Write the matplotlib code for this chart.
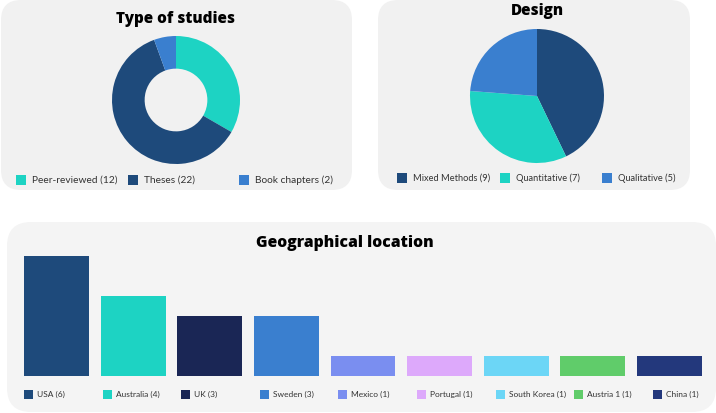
import matplotlib.pyplot as plt
import matplotlib.transforms as mtransforms
from matplotlib.patches import FancyBboxPatch, Rectangle

# data
study_labels = ['Peer-reviewed (12)', 'Theses (22)', 'Book chapters (2)']
study_values = [12, 22, 2]
study_colors = ['#1dd3c3', '#1e4a7b', '#3a7fcf']

design_labels = ['Mixed Methods (9)', 'Quantitative (7)', 'Qualitative (5)']
design_values = [9, 7, 5]
design_colors = ['#1e4a7b', '#1dd3c3', '#3a7fcf']

countries = ['USA (6)', 'Australia (4)', 'UK (3)', 'Sweden (3)', 'Mexico (1)',
             'Portugal (1)', 'South Korea (1)', 'Austria 1 (1)', 'China (1)']
country_values = [6, 4, 3, 3, 1, 1, 1, 1, 1]
country_colors = ['#1e4a7b', '#1dd3c3', '#1a2655', '#3a7fcf', '#7a8ef0',
                  '#dda9fb', '#6cd6f6', '#60cc6a', '#23387c']

W, H = 716, 413
fig = plt.figure(figsize=(W / 100, H / 100), dpi=100)
fig.patch.set_facecolor('white')
ident = mtransforms.IdentityTransform()

TITLE_FONT = dict(family='Open Sans', weight='heavy', color='black')
LEG_FONT = 'Lato'


def panel(x0, y0, x1, y1, color, r=20):
    # pixel coords measured from the top-left corner
    p = FancyBboxPatch((x0, H - y1), x1 - x0, y1 - y0,
                       boxstyle=f'round,pad=0,rounding_size={r}',
                       fc=color, ec='none', transform=ident, zorder=-5)
    fig.add_artist(p)


def px_axes(x0, y0, x1, y1):
    return fig.add_axes([x0 / W, (H - y1) / H, (x1 - x0) / W, (y1 - y0) / H])


def legend_row(labels, colors, x_start, step, y, size, fs, gap=6):
    for i, (lab, col) in enumerate(zip(labels, colors)):
        x = x_start + i * step
        fig.add_artist(Rectangle((x, H - y - size / 2), size, size,
                                 fc=col, ec='none', transform=ident))
        fig.text((x + size + gap) / W, (H - y) / H, lab, fontsize=fs,
                 family=LEG_FONT, color='#333333', va='center', ha='left')


panel(1, 0, 352, 190, '#f1f1f1')
panel(378, 0, 690, 190, '#f1f1f1')
panel(7, 222, 716, 412, '#f4f4f4', r=24)

# Type of studies (donut)
cx, cy, r = 176, 100, 64
ax1 = px_axes(cx - r, cy - r, cx + r, cy + r)
ax1.pie(study_values, colors=study_colors, startangle=90, counterclock=False,
        radius=1, wedgeprops=dict(width=0.51, linewidth=0))
ax1.set_xlim(-1, 1)
ax1.set_ylim(-1, 1)
ax1.axis('off')
fig.text(176 / W, (H - 19) / H, 'Type of studies', fontsize=11,
         ha='center', va='center', **TITLE_FONT)
legend_row(study_labels, study_colors, 16, 111.5, 180, 10, 7.3)

# Design (pie)
cx, cy, r = 537, 96, 67
ax2 = px_axes(cx - r, cy - r, cx + r, cy + r)
ax2.pie(design_values, colors=design_colors, startangle=90, counterclock=False,
        radius=1, wedgeprops=dict(linewidth=0))
ax2.set_xlim(-1, 1)
ax2.set_ylim(-1, 1)
ax2.axis('off')
fig.text(537 / W, (H - 11) / H, 'Design', fontsize=11,
         ha='center', va='center', **TITLE_FONT)
legend_row(design_labels, design_colors, 397, 102.5, 178, 10, 6.7)

# Geographical location (bars)
bw = 0.847
ax3 = px_axes(24, 256, 702, 376)
ax3.bar(range(len(countries)), country_values, width=bw, color=country_colors)
ax3.set_xlim(-bw / 2, len(countries) - 1 + bw / 2)
ax3.set_ylim(0, 6)
ax3.axis('off')
fig.text(345 / W, (H - 243) / H, 'Geographical location', fontsize=11.3,
         ha='center', va='center', **TITLE_FONT)
legend_row(countries, country_colors, 24, 78.6, 394, 9, 6, gap=4)

fig.savefig('out.png', dpi=100)
